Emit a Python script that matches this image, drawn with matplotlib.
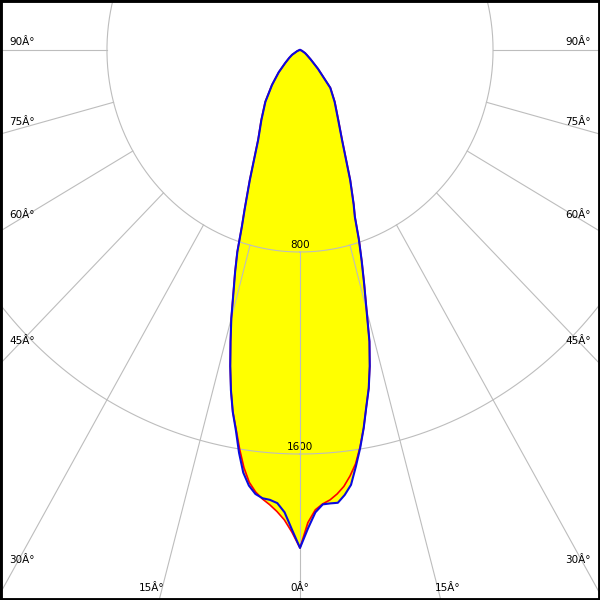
import matplotlib
matplotlib.use('Agg')
import matplotlib.pyplot as plt
import numpy as np

# 光强分布 (cd)，角度从 -90 到 90 度 (左 -> 右)
ang_blue = [-90, -80, -70, -60, -55, -50, -45, -40, -35, -30, -26, -22, -20, -19, -18, -17,
            -16, -15, -14, -13, -12, -11, -10, -9, -8, -7, -6, -5, -4, -3, -2, -1, 0,
            1, 2, 3, 4, 5, 6, 7, 8, 9, 10, 11, 12, 13, 14, 15, 16, 17, 18, 19, 20,
            22, 26, 30, 35, 40, 45, 50, 55, 60, 70, 80, 90]
cd_blue = [0, 3, 12, 38, 55, 80, 125, 180, 250, 320, 395, 555, 670, 740, 840, 920,
           1001, 1100, 1190, 1285, 1377, 1460, 1530, 1615, 1690, 1738, 1768, 1782, 1786, 1797, 1832, 1900, 1972,
           1895, 1832, 1802, 1800, 1800, 1772, 1735, 1665, 1595, 1520, 1440, 1370, 1285, 1190, 1065, 965, 875, 790, 698, 650,
           555, 398, 315, 250, 195, 105, 57, 35, 24, 8, 2, 0]

ang_red = [-90, -80, -70, -60, -55, -50, -45, -40, -35, -30, -26, -22, -20, -19, -18, -17,
           -16, -15, -14, -13, -12, -11, -10, -9, -8, -7, -6, -5, -4, -3, -2, -1, 0,
           1, 2, 3, 4, 5, 6, 7, 8, 9, 10, 11, 12, 13, 14, 15, 16, 17, 18, 19, 20,
           22, 26, 30, 35, 40, 45, 50, 55, 60, 70, 80, 90]
cd_red = [0, 3, 12, 38, 55, 80, 125, 182, 252, 322, 397, 557, 672, 742, 842, 922,
          1003, 1100, 1190, 1285, 1377, 1460, 1525, 1600, 1670, 1725, 1760, 1785, 1805, 1830, 1862, 1910, 1972,
          1872, 1822, 1800, 1786, 1765, 1738, 1700, 1655, 1592, 1520, 1440, 1370, 1285, 1190, 1067, 967, 877, 792, 700, 652,
          557, 400, 317, 252, 197, 107, 58, 36, 25, 8, 2, 0]

ring_values = [800, 1600]
ring_labels = ['800', '1600']
spoke_angles = [-90, -75, -60, -45, -30, -15, 0, 15, 30, 45, 60, 75, 90]

# 像素比例 (图上横向与纵向比例略有不同)
sx = 0.2413
sy = 0.2525
cx_px, cy_px = 300, 50

fig = plt.figure(figsize=(6, 6), dpi=100)
ax = fig.add_axes([0, 0, 1, 1])
ax.set_xlim(-cx_px / sx, (600 - cx_px) / sx)
ax.set_ylim(-(600 - cy_px) / sy, cy_px / sy)
ax.set_xticks([])
ax.set_yticks([])
for s in ax.spines.values():
    s.set_color('black')
    s.set_linewidth(3.5)


def to_xy(a, r):
    t = np.radians(np.asarray(a, dtype=float))
    r = np.asarray(r, dtype=float)
    return r * np.sin(t), -r * np.cos(t)


bx, by = to_xy(ang_blue, cd_blue)
rx, ry = to_xy(ang_red, cd_red)

# 填充
ax.fill(rx, ry, color='#ffff00', lw=0, zorder=1)
ax.fill(bx, by, color='#ffff00', lw=0, zorder=1)

# 网格
grid_c = '#bdbdbd'
tt = np.linspace(0, 360, 361)
for rv in ring_values:
    gx, gy = to_xy(tt, np.full_like(tt, rv))
    ax.plot(gx, gy, color=grid_c, lw=0.8, zorder=2)
for a in spoke_angles:
    gx, gy = to_xy([a, a], [ring_values[0], 4000])
    ax.plot(gx, gy, color=grid_c, lw=0.8, zorder=2)

for rv, lab in zip(ring_values, ring_labels):
    ax.text(0, -rv + 28, lab, ha='center', va='center', fontsize=7.5, color='black', zorder=1.5)

# 曲线
ax.plot(rx, ry, color='#ff0000', lw=1.2, zorder=3)
ax.plot(bx, by, color='#0a0ae0', lw=1.5, zorder=4)

# 角度标签
px2x = lambda p: (p - cx_px) / sx
for a in spoke_angles:
    lab = f'{abs(a)}Â°'
    t = np.radians(a)
    if abs(a) >= 30:
        xe = px2x(14) if a < 0 else px2x(586)
        r = xe / np.sin(t)
        y = -r * np.cos(t)
        if a < 0:
            ax.annotate(lab, (px2x(9), y), xytext=(0, 5.8), textcoords='offset points',
                        ha='left', va='center', fontsize=7.5, color='black')
        else:
            ax.annotate(lab, (px2x(591), y), xytext=(0, 5.8), textcoords='offset points',
                        ha='right', va='center', fontsize=7.5, color='black')
    else:
        ye = -(596 - cy_px) / sy
        r = -ye / np.cos(t)
        x = r * np.sin(t)
        dx = 0 if a == 0 else (-6.5 if a < 0 else 5.5)
        ax.annotate(lab, (x, -(588 - cy_px) / sy), xytext=(dx, 0), textcoords='offset points',
                    ha='center', va='center', fontsize=7.5, color='black')

fig.savefig('out.png', dpi=100)
